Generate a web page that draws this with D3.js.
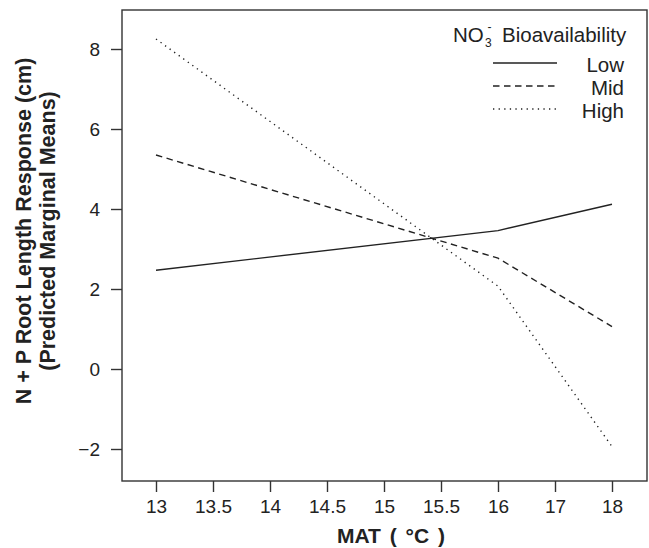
<!DOCTYPE html>
<html>
<head>
<meta charset="utf-8">
<script src="https://cdn.jsdelivr.net/npm/d3@7"></script>
<style>
  body { margin: 0; background: #fff; }
  svg { font-family: "Liberation Sans", Arial, Helvetica, sans-serif; }
  .tick-label { font-size: 19px; fill: #222; }
  .axis-title { font-weight: bold; fill: #222; }
  .legend-text { font-size: 20.5px; fill: #222; }
</style>
</head>
<body>
<div id="chart"></div>
<script>
// MAT values at which the marginal means were predicted
const matValues = [13, 16, 18];
// predicted N + P root length response (cm) per NO3- level
const lowSeries = [2.47, 3.46, 4.12];
const midSeries = [5.35, 2.77, 1.06];
const highSeries = [8.25, 2.07, -1.94];
const seriesNames = ["Low", "Mid", "High"];
const xTicks = [13, 13.5, 14, 14.5, 15, 15.5, 16, 17, 18];
const yTicks = [-2, 0, 2, 4, 6, 8];

let width = 649, height = 548;
let box = {left: 122, right: 647, top: 10, bottom: 481};

let svg = d3.select("#chart").append("svg")
    .attr("width", width)
    .attr("height", height);

// x axis is stretched: 13-16 in half steps, then whole steps
let xScale = d3.scaleLinear()
    .domain([13, 16, 18])
    .range([156, 498, 612]);

let yScale = d3.scaleLinear()
    .domain([-2, 8])
    .range([449, 49]);

// frame
svg.append("rect")
    .attr("x", box.left)
    .attr("y", box.top)
    .attr("width", box.right - box.left)
    .attr("height", box.bottom - box.top)
    .attr("fill", "none")
    .attr("stroke", "#333")
    .attr("stroke-width", 1.4);

// x axis
let xAxis = svg.append("g")
    .attr("transform", "translate(0," + box.bottom + ")")
    .call(d3.axisBottom(xScale).tickValues(xTicks).tickSize(11).tickPadding(8).tickFormat(d3.format("")));
xAxis.select(".domain").remove();
xAxis.selectAll("line").attr("stroke", "#333").attr("stroke-width", 1.4);
xAxis.selectAll("text").attr("class", "tick-label").attr("font-size", null).attr("font-family", null).attr("fill", null);

// y axis
let yAxis = svg.append("g")
    .attr("transform", "translate(" + box.left + ",0)")
    .call(d3.axisLeft(yScale).tickValues(yTicks).tickSize(11).tickPadding(11)
        .tickFormat(d => d < 0 ? "\u2212" + Math.abs(d) : d));
yAxis.select(".domain").remove();
yAxis.selectAll("line").attr("stroke", "#333").attr("stroke-width", 1.4);
yAxis.selectAll("text").attr("class", "tick-label").attr("font-size", null).attr("font-family", null).attr("fill", null);

// series
let styles = {Low: null, Mid: "6.5,4.5", High: "1.3,4.3"};
let seriesData = [lowSeries, midSeries, highSeries].map((vals, i) => ({
    name: seriesNames[i],
    points: vals.map((v, j) => ({x: matValues[j], y: v}))
}));

let line = d3.line().x(d => xScale(d.x)).y(d => yScale(d.y));

svg.selectAll(".series")
    .data(seriesData)
    .enter()
    .append("path")
    .attr("class", "series")
    .attr("d", d => line(d.points))
    .attr("fill", "none")
    .attr("stroke", "#222")
    .attr("stroke-width", 1.4)
    .attr("stroke-dasharray", d => styles[d.name]);

// axis titles
svg.append("text")
    .attr("class", "axis-title")
    .attr("x", 391)
    .attr("y", 543)
    .attr("text-anchor", "middle")
    .attr("font-size", 21)
    .attr("word-spacing", 3)
    .text("MAT ( \u00B0C )");

let yTitle = svg.append("text")
    .attr("class", "axis-title")
    .attr("transform", "translate(31,231) rotate(-90)")
    .attr("text-anchor", "middle")
    .attr("font-size", 21.5);
yTitle.append("tspan").attr("x", 0).attr("y", 0).text("N + P Root Length Response (cm)");
yTitle.append("tspan").attr("x", 0).attr("y", 24).text("(Predicted Marginal Means)");

// legend title: NO3- with stacked sub/superscript
svg.append("text").attr("class", "legend-text").attr("x", 453).attr("y", 42).text("NO");
svg.append("text").attr("class", "legend-text").attr("x", 485).attr("y", 47)
    .style("font-size", "12px").text("3");
svg.append("text").attr("class", "legend-text").attr("x", 487.5).attr("y", 31)
    .style("font-size", "12px").text("-");
svg.append("text").attr("class", "legend-text").attr("x", 502).attr("y", 42).text("Bioavailability");

let legend = svg.selectAll(".legend-item")
    .data(seriesData)
    .enter()
    .append("g")
    .attr("class", "legend-item")
    .attr("transform", (d, i) => "translate(0," + (63 + i * 23) + ")");

legend.append("line")
    .attr("x1", 493)
    .attr("x2", 557)
    .attr("stroke", "#222")
    .attr("stroke-width", 1.4)
    .attr("stroke-dasharray", d => styles[d.name]);

legend.append("text")
    .attr("class", "legend-text")
    .attr("x", 624)
    .attr("y", 9)
    .attr("text-anchor", "end")
    .text(d => d.name);
</script>
</body>
</html>
